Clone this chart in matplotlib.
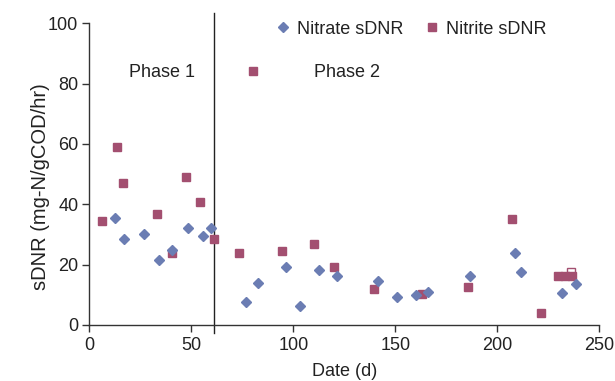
import matplotlib.pyplot as plt
import numpy as np

plt.rcParams['font.family'] = ['Liberation Sans', 'DejaVu Sans']

# nitrate sDNR (blue diamonds)
nitrate_day = [12.7, 16.9, 26.7, 34.2, 40.6, 48.5, 55.5, 59.6, 76.6, 82.5, 96.4, 103.4,
               112.6, 121.2, 141.6, 150.7, 160.1, 165.9, 186.8, 208.8, 211.5, 231.6, 238.4]
nitrate_val = [35.4, 28.5, 30.0, 21.4, 24.9, 32.1, 29.4, 32.2, 7.5, 14.0, 19.2, 6.4,
               18.2, 16.3, 14.7, 9.2, 10.1, 10.9, 16.1, 23.8, 17.6, 10.6, 13.6]

# nitrite sDNR (red squares)
nitrite_day = [6.3, 13.3, 16.4, 33.1, 40.3, 47.2, 54.3, 61.1, 73.5, 80.0, 94.4, 110.1,
               119.9, 139.5, 163.1, 185.6, 207.4, 221.4, 229.8, 233.2, 236.6]
nitrite_val = [34.4, 59.1, 47.0, 36.8, 23.8, 49.0, 40.7, 28.4, 23.8, 84.2, 24.5, 26.8,
               19.3, 12.0, 10.3, 12.7, 35.1, 4.1, 16.3, 16.3, 16.3]
# one hollow square in the cluster at the end
hollow_day = [236.0]
hollow_val = [17.6]

phase_split = 61

blue = '#6b7db3'
red = '#a34f70'
txt = '#222222'

fig = plt.figure(figsize=(6.15, 3.81), dpi=100)
ax = fig.add_axes([0.1455, 0.147, 0.829, 0.792])

ax.plot(hollow_day, hollow_val, 's', ms=6.2, mfc='white', mec=red, mew=1.0, zorder=2)
ax.plot(nitrite_day, nitrite_val, 's', ms=6.4, color=red, mec=red, label='Nitrite sDNR', zorder=3)
ax.plot(nitrate_day, nitrate_val, 'D', ms=5.6, color=blue, mec=blue, label='Nitrate sDNR', zorder=4)

ax.axvline(phase_split, ymin=-0.027, ymax=1.034, color=txt, lw=1.0, clip_on=False, zorder=1)

ax.text(0.1416, 0.838, 'Phase 1', transform=ax.transAxes, fontsize=13, ha='center', va='center', color=txt)
ax.text(0.506, 0.838, 'Phase 2', transform=ax.transAxes, fontsize=13, ha='center', va='center', color=txt)

ax.set_xlim(0, 250)
ax.set_ylim(0, 100)
ax.set_xticks(np.arange(0, 251, 50))
ax.set_yticks(np.arange(0, 101, 20))
for s in ['top', 'right']:
    ax.spines[s].set_visible(False)
for s in ['left', 'bottom']:
    ax.spines[s].set_color('#333333')
    ax.spines[s].set_linewidth(1.0)
ax.tick_params(direction='out', length=5, width=1.0, colors='#333333', labelsize=13,
               labelcolor=txt, pad=3)
ax.tick_params(axis='x', pad=4)
ax.set_xlabel('Date (d)', fontsize=13, color=txt, labelpad=6)
ax.set_ylabel('sDNR (mg-N/gCOD/hr)', fontsize=14.5, color=txt)
ax.yaxis.set_label_coords(-0.077, 0.457)

h, l = ax.get_legend_handles_labels()
ax.legend([h[1], h[0]], [l[1], l[0]], loc='center left', bbox_to_anchor=(0.365, 0.98), ncol=2,
          frameon=False, fontsize=13, handlelength=0.8, handletextpad=0.38, columnspacing=1.2,
          borderaxespad=0, borderpad=0, labelcolor=txt)

fig.savefig('out.png', dpi=100)
